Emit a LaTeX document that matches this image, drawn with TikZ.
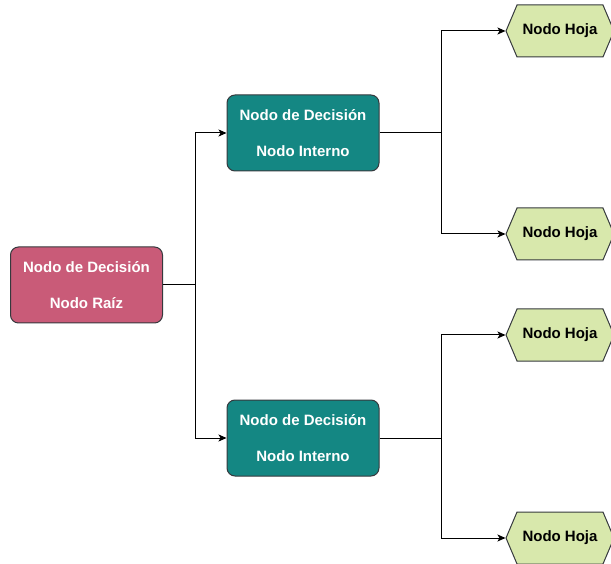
\documentclass[tikz,border=0pt]{standalone}
\usepackage{fontspec}
\setmainfont{Liberation Sans}
\usetikzlibrary{shapes.symbols,arrows.meta}
\definecolor{rootfill}{HTML}{C95B78}
\definecolor{intfill}{HTML}{148783}
\definecolor{leaffill}{HTML}{D8E8AC}
\definecolor{edgecol}{HTML}{36393D}
\tikzset{
  box/.style={draw=edgecol, line width=1pt, rounded corners=8pt, minimum width=152pt, minimum height=76pt,
    text=white, font=\fontsize{15}{18}\selectfont\bfseries, align=center, inner sep=0pt},
  rootbox/.style={box, fill=rootfill},
  intbox/.style={box, fill=intfill},
  leaf/.style={shape=signal, signal to=west and east, signal pointer angle=134, draw=edgecol, line width=1pt,
    fill=leaffill, minimum width=108pt, minimum height=52pt, inner sep=0pt,
    font=\fontsize{15}{18}\selectfont\bfseries, text=black},
  arr/.style={draw=black, line width=1pt, -{Stealth[length=8pt,width=7pt,inset=2pt]}}
}
\begin{document}
\begin{tikzpicture}[x=1pt,y=-1pt]
\useasboundingbox (0,0) rectangle (611,564);
\clip (0,0) rectangle (611,564);
\node[rootbox] (root) at (86.5,285) {Nodo de Decisión\\[18pt]Nodo Raíz};
\node[intbox] (i1) at (303,133) {Nodo de Decisión\\[18pt]Nodo Interno};
\node[intbox] (i2) at (303,438) {Nodo de Decisión\\[18pt]Nodo Interno};
\node[leaf] (l1) at (560,31) {Nodo Hoja};
\node[leaf] (l2) at (560,234) {Nodo Hoja};
\node[leaf] (l3) at (560,335) {Nodo Hoja};
\node[leaf] (l4) at (560,538) {Nodo Hoja};
\coordinate (j0) at (195,285);
\coordinate (j1) at (441,133);
\coordinate (j2) at (441,438);
\draw[arr] (root.east) -- (j0) |- (i1.west);
\draw[arr] (j0) |- (i2.west);
\draw[arr] (i1.east) -- (j1) |- (l1.west);
\draw[arr] (j1) |- (l2.west);
\draw[arr] (i2.east) -- (j2) |- (l3.west);
\draw[arr] (j2) |- (l4.west);
\end{tikzpicture}
\end{document}
